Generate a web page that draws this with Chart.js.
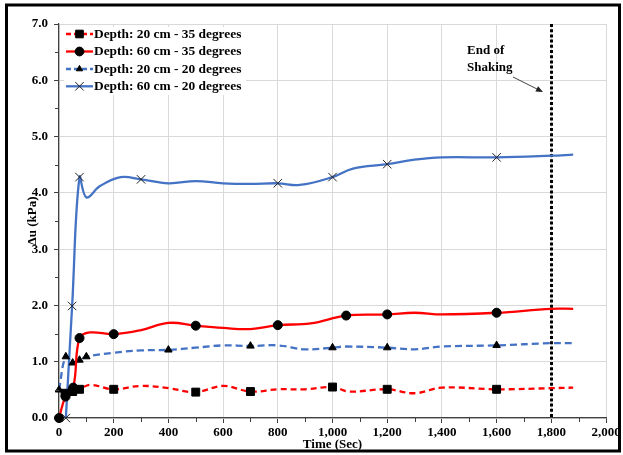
<!DOCTYPE html>
<html>
<head>
<meta charset="utf-8">
<script src="https://cdn.jsdelivr.net/npm/chart.js@4/dist/chart.umd.min.js"></script>
<style>
  html, body { margin: 0; padding: 0; background: #ffffff; }
  #wrap { width: 623px; height: 455px; }
</style>
</head>
<body>
<div id="wrap"><canvas id="c" width="623" height="455"></canvas></div>
<script>
// Pore pressure rise Δu (kPa) over time (s) for four depth / slope cases.
const labels = [
  'Depth: 20 cm - 35 degrees',
  'Depth: 60 cm - 35 degrees',
  'Depth: 20 cm - 20 degrees',
  'Depth: 60 cm - 20 degrees'
];

// Depth 20 cm, 35 degrees
const time20_35   = [22, 50, 75, 113, 200, 300, 400, 500, 600, 700, 800, 900, 1000, 1060, 1200, 1300, 1400, 1600, 1800, 1880];
const du20_35     = [0.44, 0.47, 0.51, 0.59, 0.51, 0.57, 0.53, 0.46, 0.57, 0.47, 0.51, 0.51, 0.55, 0.47, 0.51, 0.44, 0.54, 0.51, 0.53, 0.54];
const marks20_35  = [22, 50, 75, 200, 500, 700, 1000, 1200, 1600];

// Depth 60 cm, 35 degrees
const time60_35   = [0, 24, 52, 75, 113, 200, 300, 400, 500, 600, 700, 800, 920, 1050, 1200, 1300, 1400, 1600, 1800, 1880];
const du60_35     = [0, 0.38, 0.54, 1.42, 1.52, 1.49, 1.56, 1.69, 1.64, 1.60, 1.58, 1.65, 1.68, 1.82, 1.84, 1.87, 1.84, 1.87, 1.94, 1.94];
const marks60_35  = [0, 24, 52, 75, 200, 500, 800, 1050, 1200, 1600];

// Depth 20 cm, 20 degrees
const time20_20   = [0, 25, 50, 75, 100, 200, 300, 400, 500, 600, 700, 800, 900, 1000, 1050, 1200, 1300, 1400, 1600, 1800, 1880];
const du20_20     = [0.50, 1.09, 0.98, 1.03, 1.09, 1.16, 1.20, 1.21, 1.25, 1.29, 1.28, 1.29, 1.22, 1.25, 1.27, 1.25, 1.22, 1.27, 1.29, 1.33, 1.33];
const marks20_20  = [0, 25, 50, 75, 100, 400, 700, 1000, 1200, 1600];

// Depth 60 cm, 20 degrees
const time60_20   = [25, 48, 75, 100, 150, 225, 300, 400, 500, 600, 700, 800, 880, 1000, 1075, 1200, 1300, 1400, 1600, 1800, 1880];
const du60_20     = [0, 1.99, 4.28, 3.92, 4.12, 4.28, 4.24, 4.17, 4.21, 4.17, 4.16, 4.17, 4.14, 4.28, 4.43, 4.51, 4.59, 4.63, 4.63, 4.66, 4.68];
const marks60_20  = [25, 48, 75, 300, 800, 1000, 1200, 1600];

// Axis ticks and the end-of-shaking time
const xTicks = [0, 200, 400, 600, 800, 1000, 1200, 1400, 1600, 1800, 2000];
const yTicks = [0, 1, 2, 3, 4, 5, 6, 7];
const shakingEnd = 1800;
const noteLines = ['End of', 'Shaking'];

const FONT = "'Liberation Serif', 'Times New Roman', serif";

function pts(ts, vs) { return ts.map((t, i) => ({ x: t, y: vs[i] })); }
function markerRadius(marks, r) {
  return (ctx) => (ctx.raw && marks.includes(ctx.raw.x)) ? r : 0;
}

const RED = '#ff0000';
const BLUE = '#4472c4';

const datasets = [
  {
    label: labels[0], data: pts(time20_35, du20_35), marks: marks20_35,
    borderColor: RED, borderWidth: 2.3, borderDash: [6, 4],
    pointStyle: 'rect', pointRadius: markerRadius(marks20_35, 5.6), legendRadius: 5.4,
    pointBackgroundColor: '#000', pointBorderColor: '#000', pointBorderWidth: 1
  },
  {
    label: labels[1], data: pts(time60_35, du60_35), marks: marks60_35,
    borderColor: RED, borderWidth: 2.3, borderDash: [],
    pointStyle: 'circle', pointRadius: markerRadius(marks60_35, 4.5), legendRadius: 4.4,
    pointBackgroundColor: '#000', pointBorderColor: '#000', pointBorderWidth: 1
  },
  {
    label: labels[2], data: pts(time20_20, du20_20), marks: marks20_20,
    borderColor: BLUE, borderWidth: 2.3, borderDash: [7, 4],
    pointStyle: 'triangle', pointRadius: markerRadius(marks20_20, 4.3), legendRadius: 3.6,
    pointBackgroundColor: '#000', pointBorderColor: '#000', pointBorderWidth: 1
  },
  {
    label: labels[3], data: pts(time60_20, du60_20), marks: marks60_20,
    borderColor: BLUE, borderWidth: 2.3, borderDash: [],
    pointStyle: 'crossRot', pointRadius: markerRadius(marks60_20, 6), legendRadius: 6,
    pointBackgroundColor: '#222', pointBorderColor: '#222', pointBorderWidth: 1
  }
].map(d => Object.assign({ tension: 0.4, fill: false, clip: false, showLine: true }, d));

// Minor ticks, frame, legend, end-of-shaking marker and its note
const decorations = {
  id: 'decorations',
  beforeDatasetsDraw(chart) {
    const { ctx, chartArea: a, scales: { x } } = chart;
    // dotted line at the end of shaking
    const px = Math.round(x.getPixelForValue(shakingEnd)) + 0.5;
    ctx.save();
    ctx.strokeStyle = '#000';
    ctx.lineWidth = 3;
    ctx.setLineDash([3, 2.2]);
    ctx.beginPath();
    ctx.moveTo(px, a.top);
    ctx.lineTo(px, a.bottom);
    ctx.stroke();
    ctx.restore();
  },
  afterDraw(chart) {
    const { ctx, chartArea: a, scales: { x, y } } = chart;
    ctx.save();
    // minor ticks
    ctx.strokeStyle = '#404040';
    ctx.lineWidth = 1;
    ctx.beginPath();
    for (let v = 0.5; v < 7; v += 1) {
      const py = Math.round(y.getPixelForValue(v)) + 0.5;
      ctx.moveTo(a.left - 4, py); ctx.lineTo(a.left, py);
    }
    for (let t = 100; t < 2000; t += 200) {
      const qx = Math.round(x.getPixelForValue(t)) + 0.5;
      ctx.moveTo(qx, a.bottom); ctx.lineTo(qx, a.bottom + 4);
    }
    ctx.stroke();

    // legend
    const lx0 = 66, lx1 = 93, rows = [34, 51.5, 69, 86.3];
    ctx.fillStyle = '#ffffff';
    ctx.fillRect(64, 27, 182, 68);
    chart.data.datasets.forEach((d, i) => {
      const ry = rows[i];
      ctx.save();
      ctx.strokeStyle = d.borderColor;
      ctx.lineWidth = d.borderWidth;
      ctx.setLineDash(d.borderDash.length ? [5, 3] : []);
      ctx.beginPath();
      ctx.moveTo(lx0, ry); ctx.lineTo(lx1, ry);
      ctx.stroke();
      ctx.restore();
      ctx.save();
      ctx.fillStyle = d.pointBackgroundColor;
      ctx.strokeStyle = d.pointBorderColor;
      ctx.lineWidth = d.pointBorderWidth;
      Chart.helpers.drawPoint(ctx, { pointStyle: d.pointStyle, radius: d.legendRadius, rotation: 0, borderWidth: 1 }, (lx0 + lx1) / 2, ry);
      ctx.restore();
      ctx.fillStyle = '#000';
      ctx.font = 'bold 13.4px ' + FONT;
      ctx.textAlign = 'left';
      ctx.textBaseline = 'middle';
      ctx.fillText(d.label, lx1 + 1, ry + 0.5);
    });

    // note with arrow
    ctx.fillStyle = '#000';
    ctx.font = 'bold 13px ' + FONT;
    ctx.textAlign = 'left';
    ctx.textBaseline = 'middle';
    ctx.fillText(noteLines[0], 467, 51);
    ctx.fillText(noteLines[1], 467, 67.5);
    const ax0 = 513, ay0 = 77, ax1 = 543, ay1 = 92;
    ctx.strokeStyle = '#404040';
    ctx.lineWidth = 1;
    ctx.beginPath();
    ctx.moveTo(ax0, ay0); ctx.lineTo(ax1 - 4, ay1 - 2);
    ctx.stroke();
    const ang = Math.atan2(ay1 - ay0, ax1 - ax0);
    ctx.fillStyle = '#202020';
    ctx.beginPath();
    ctx.moveTo(ax1, ay1);
    ctx.lineTo(ax1 - 7 * Math.cos(ang) + 3 * Math.sin(ang), ay1 - 7 * Math.sin(ang) - 3 * Math.cos(ang));
    ctx.lineTo(ax1 - 7 * Math.cos(ang) - 3 * Math.sin(ang), ay1 - 7 * Math.sin(ang) + 3 * Math.cos(ang));
    ctx.closePath();
    ctx.fill();

    // outer frame
    ctx.strokeStyle = '#000';
    ctx.lineWidth = 3;
    ctx.strokeRect(6.5, 5, 613, 446);
    ctx.restore();
  }
};

const tickFont = { family: FONT, size: 13, weight: 'bold' };

new Chart(document.getElementById('c'), {
  type: 'line',
  data: { datasets },
  options: {
    responsive: false,
    animation: false,
    events: [],
    layout: { padding: { left: 0, top: 24, right: 17, bottom: 0 } },
    plugins: { legend: { display: false }, tooltip: { enabled: false } },
    scales: {
      x: {
        type: 'linear', min: 0, max: 2000,
        afterFit(s) { s.height = 37; },
        afterBuildTicks(s) { s.ticks = xTicks.map(v => ({ value: v })); },
        ticks: {
          color: '#000', font: tickFont, padding: 2, maxRotation: 0, autoSkip: false,
          callback: v => v.toLocaleString('en-US')
        },
        grid: { color: '#d9d9d9', lineWidth: 1, tickColor: '#404040', tickLength: 5 },
        border: { color: '#404040', width: 1.2 },
        title: { display: true, text: 'Time (Sec)', color: '#000', font: tickFont, padding: { top: 0, bottom: 3 } }
      },
      y: {
        min: 0, max: 7,
        afterFit(s) { s.width = 59; },
        afterBuildTicks(s) { s.ticks = yTicks.map(v => ({ value: v })); },
        ticks: { color: '#000', font: tickFont, padding: 6, callback: v => v.toFixed(1) },
        grid: { color: '#d9d9d9', lineWidth: 1, tickColor: '#404040', tickLength: 5 },
        border: { color: '#404040', width: 1.2 },
        title: { display: true, text: 'Δu (kPa)', color: '#000', font: tickFont, padding: { top: 25, bottom: 0 } }
      }
    }
  },
  plugins: [decorations]
});
</script>
</body>
</html>
